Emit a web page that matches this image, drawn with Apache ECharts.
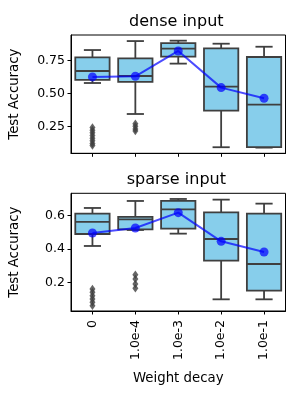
<!DOCTYPE html>
<html><head><meta charset="utf-8">
<script src="https://cdn.jsdelivr.net/npm/echarts@6/dist/echarts.min.js"></script>
<style>html,body{margin:0;padding:0;background:#fff}#c{width:300px;height:400px}</style>
</head><body><div id="c"></div>
<script>
const categories = ['0', '1.0e-4', '1.0e-3', '1.0e-2', '1.0e-1'];
const titles = ['dense input', 'sparse input'];
const yName = 'Test Accuracy';
const xName = 'Weight decay';

const denseLow  = [0.578, 0.343, 0.725, 0.091, 0.088];
const denseQ1   = [0.601, 0.586, 0.778, 0.369, 0.092];
const denseMed  = [0.669, 0.631, 0.838, 0.550, 0.414];
const denseQ3   = [0.773, 0.765, 0.881, 0.841, 0.775];
const denseHigh = [0.828, 0.896, 0.899, 0.876, 0.853];
const denseMean = [0.624, 0.629, 0.821, 0.543, 0.462];
const denseOutliers = [[0,0.24],[0,0.22],[0,0.20],[0,0.18],[0,0.16],[0,0.14],[0,0.12],[0,0.105],[1,0.27],[1,0.25],[1,0.23],[1,0.215]];
const denseTicks = [0.25, 0.50, 0.75];

const sparseLow  = [0.418, 0.514, 0.492, 0.098, 0.098];
const sparseQ1   = [0.490, 0.518, 0.522, 0.330, 0.150];
const sparseMed  = [0.562, 0.578, 0.638, 0.460, 0.310];
const sparseQ3   = [0.612, 0.592, 0.688, 0.620, 0.612];
const sparseHigh = [0.646, 0.688, 0.700, 0.696, 0.672];
const sparseMean = [0.496, 0.526, 0.618, 0.446, 0.382];
const sparseOutliers = [[0,0.16],[0,0.14],[0,0.12],[0,0.10],[0,0.08],[0,0.06],[1,0.245],[1,0.22],[1,0.19],[1,0.165]];
const sparseTicks = [0.2, 0.4, 0.6];

const EDGE = '#3f3f3f';
const FILL = '#87CEEB';
const MEAN = 'rgba(0,0,255,0.7)';
const FONT = 'DejaVu Sans';

function boxData(lo, q1, md, q3, hi) {
  return categories.map((c, i) => [i, lo[i], q1[i], md[i], q3[i], hi[i]]);
}
function renderBox(params, api) {
  const i = api.value(0);
  const pLo = api.coord([i, api.value(1)]);
  const pQ1 = api.coord([i, api.value(2)]);
  const pMd = api.coord([i, api.value(3)]);
  const pQ3 = api.coord([i, api.value(4)]);
  const pHi = api.coord([i, api.value(5)]);
  const bw = api.size([1, 0])[0] * 0.8;
  const cx = pLo[0];
  const ls = { stroke: EDGE, lineWidth: 1.8, fill: null };
  return { type: 'group', children: [
    { type: 'line', shape: { x1: cx, y1: pQ3[1], x2: cx, y2: pHi[1] }, style: ls },
    { type: 'line', shape: { x1: cx, y1: pQ1[1], x2: cx, y2: pLo[1] }, style: ls },
    { type: 'line', shape: { x1: cx - bw/4, y1: pHi[1], x2: cx + bw/4, y2: pHi[1] }, style: ls },
    { type: 'line', shape: { x1: cx - bw/4, y1: pLo[1], x2: cx + bw/4, y2: pLo[1] }, style: ls },
    { type: 'rect', shape: { x: cx - bw/2, y: pQ3[1], width: bw, height: pQ1[1] - pQ3[1] }, style: { fill: FILL, stroke: EDGE, lineWidth: 1.8 } },
    { type: 'line', shape: { x1: cx - bw/2, y1: pMd[1], x2: cx + bw/2, y2: pMd[1] }, style: ls }
  ]};
}

const grids = [
  { left: 67, right: 14.5, top: 35, height: 118.3 },
  { left: 67, right: 14.5, top: 193.3, height: 117.7 }
];
const yRanges = [[0.045, 0.942], [0.028, 0.734]];
const tickSets = [denseTicks, sparseTicks];
const decimals = [2, 1];

const option = {
  animation: false,
  grid: grids.map(g => Object.assign({ show: true, borderColor: '#000', borderWidth: 1, backgroundColor: 'transparent' }, g)),
  xAxis: [0, 1].map(k => ({
    type: 'category', gridIndex: k, data: categories,
    boundaryGap: true,
    axisLine: { show: true, lineStyle: { color: '#000', width: 1 } },
    axisTick: { show: true, alignWithLabel: true, length: 3.5, lineStyle: { color: '#000' } },
    axisLabel: { show: k === 1, rotate: 90, margin: 9, color: '#000', fontFamily: FONT, fontSize: 12.5 },
    name: k === 1 ? xName : '', nameLocation: 'middle', nameGap: 61,
    nameTextStyle: { color: '#000', fontFamily: FONT, fontSize: 13.3 },
    splitLine: { show: false }
  })),
  yAxis: [0, 1].map(k => ({
    type: 'value', gridIndex: k, min: yRanges[k][0], max: yRanges[k][1],
    axisLine: { show: true, lineStyle: { color: '#000', width: 1 } },
    axisTick: { show: true, length: 3.5, lineStyle: { color: '#000' }, customValues: tickSets[k] },
    axisLabel: { color: '#000', fontFamily: FONT, fontSize: 12.5, margin: 6, customValues: tickSets[k],
      formatter: v => Number(v).toFixed(decimals[k]) },
    splitLine: { show: false },
    name: yName, nameLocation: 'middle', nameGap: 50, nameRotate: 90,
    nameTextStyle: { color: '#000', fontFamily: FONT, fontSize: 13.3 }
  })),
  graphic: titles.map((t, k) => ({
    type: 'text', x: 176.3, y: k === 0 ? 21.7 : 179.5,
    style: { text: t, fill: '#000', font: '16px "DejaVu Sans"', textAlign: 'center', textVerticalAlign: 'middle' }
  })),
  series: [
    { type: 'custom', xAxisIndex: 0, yAxisIndex: 0, renderItem: renderBox, data: boxData(denseLow, denseQ1, denseMed, denseQ3, denseHigh), z: 2 },
    { type: 'scatter', xAxisIndex: 0, yAxisIndex: 0, data: denseOutliers, symbol: 'diamond', symbolSize: [6, 8.5], itemStyle: { color: EDGE }, z: 3, clip: true },
    { type: 'line', xAxisIndex: 0, yAxisIndex: 0, data: denseMean, symbol: 'circle', symbolSize: 9, showSymbol: true,
      lineStyle: { color: MEAN, width: 2 }, itemStyle: { color: MEAN }, z: 4 },
    { type: 'custom', xAxisIndex: 1, yAxisIndex: 1, renderItem: renderBox, data: boxData(sparseLow, sparseQ1, sparseMed, sparseQ3, sparseHigh), z: 2 },
    { type: 'scatter', xAxisIndex: 1, yAxisIndex: 1, data: sparseOutliers, symbol: 'diamond', symbolSize: [6, 8.5], itemStyle: { color: EDGE }, z: 3, clip: true },
    { type: 'line', xAxisIndex: 1, yAxisIndex: 1, data: sparseMean, symbol: 'circle', symbolSize: 9, showSymbol: true,
      lineStyle: { color: MEAN, width: 2 }, itemStyle: { color: MEAN }, z: 4 }
  ]
};
const chart = echarts.init(document.getElementById('c'), null, { renderer: 'canvas' });
chart.setOption(option);
</script></body></html>
